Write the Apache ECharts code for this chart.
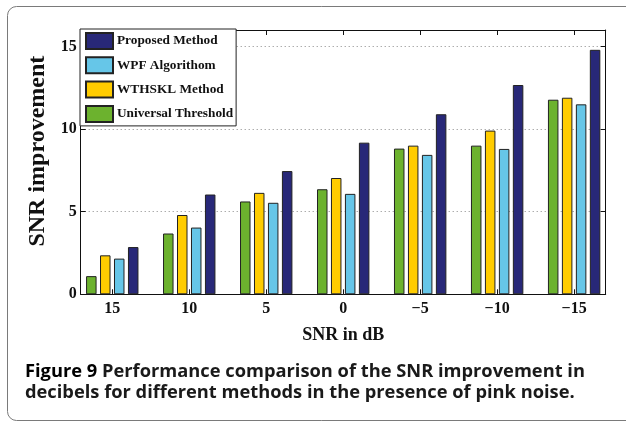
<!DOCTYPE html>
<html>
<head>
<meta charset="utf-8">
<script src="https://cdn.jsdelivr.net/npm/echarts@6/dist/echarts.min.js"></script>
<style>
  html, body { margin: 0; padding: 0; background: #fff; }
  #chart { width: 626px; height: 424px; }
</style>
</head>
<body>
<div id="chart"></div>
<script>
// SNR input levels (x axis)
const snrLabels = ['15', '10', '5', '0', '\u22125', '\u221210', '\u221215'];
// position of each group on the x axis
const snrPos = [1, 2, 3, 4, 5, 6, 7];

// SNR improvement, one array per method
const universal = [1.1, 3.68, 5.62, 6.36, 8.82, 9.0, 11.78];
const wthskl = [2.36, 4.8, 6.14, 7.04, 9.0, 9.91, 11.9];
const wpf = [2.16, 4.04, 5.54, 6.08, 8.44, 8.8, 11.5];
const proposed = [2.86, 6.04, 7.46, 9.18, 10.9, 12.67, 14.8];

const methodNames = ['Universal Threshold', 'WTHSKL Method', 'WPF Algorithom', 'Proposed Method'];
const legendOrder = ['Proposed Method', 'WPF Algorithom', 'WTHSKL Method', 'Universal Threshold'];
const yTicks = [0, 5, 10, 15];

const serif = '"Liberation Serif", "DejaVu Serif", serif';
const sans = '"Open Sans", "Noto Sans", sans-serif';
const colors = ['#6cb22e', '#ffcc00', '#66c6e8', '#282878'];
const seriesValues = [universal, wthskl, wpf, proposed];

const chart = echarts.init(document.getElementById('chart'));

const series = methodNames.map(function (name, i) {
    return {
        name: name,
        type: 'bar',
        xAxisIndex: 0,
        yAxisIndex: 0,
        barWidth: 10.5,
        barGap: '33%',
        itemStyle: { color: colors[i], borderColor: '#222', borderWidth: 1 },
        data: snrPos.map(function (x, k) { return [x, seriesValues[i][k]]; })
    };
});

chart.setOption({
    animation: false,
    grid: { left: 80.7, right: 20.3, top: 30, bottom: 129.7 },
    legend: {
        orient: 'vertical',
        left: 80,
        top: 29,
        data: legendOrder,
        icon: 'rect',
        itemWidth: 27,
        itemHeight: 16,
        itemGap: 6.3,
        padding: [3, 3, 3, 5],
        borderColor: '#222',
        borderWidth: 1,
        backgroundColor: '#fff',
        z: 10,
        textStyle: { fontFamily: serif, fontWeight: 'bold', fontSize: 13.3, color: '#111', padding: [0, 0, 0, -1] }
    },
    xAxis: [
        {
            type: 'value',
            min: 0.59,
            max: 7.41,
            name: 'SNR in dB',
            nameLocation: 'middle',
            nameGap: 32,
            nameTextStyle: { fontFamily: serif, fontWeight: 'bold', fontSize: 18, color: '#111' },
            axisLine: { show: true, lineStyle: { color: '#111', width: 1 } },
            axisTick: { show: true, inside: true, length: 5, customValues: snrPos, lineStyle: { color: '#111' } },
            axisLabel: {
                customValues: snrPos,
                margin: 7,
                fontFamily: serif, fontWeight: 'bold', fontSize: 16, color: '#111',
                formatter: function (v) { return snrLabels[Math.round(v) - 1]; }
            },
            splitLine: { show: false }
        },
        {
            type: 'value',
            position: 'top',
            min: 0.59,
            max: 7.41,
            z: 5,
            axisLine: { show: true, onZero: false, lineStyle: { color: '#111', width: 1 } },
            axisTick: { show: true, inside: true, length: 5, customValues: snrPos, lineStyle: { color: '#111' } },
            axisLabel: { show: false },
            splitLine: { show: false }
        }
    ],
    yAxis: [
        {
            type: 'value',
            min: 0,
            max: 16,
            interval: 5,
            name: 'SNR improvement',
            nameLocation: 'middle',
            nameGap: 27,
            nameTextStyle: { fontFamily: serif, fontWeight: 'bold', fontSize: 24, color: '#111', padding: [0, 0, 0, 22] },
            axisLine: { show: true, lineStyle: { color: '#111', width: 1 } },
            axisTick: { show: true, inside: true, length: 5, customValues: yTicks, lineStyle: { color: '#111' } },
            axisLabel: {
                customValues: yTicks,
                margin: 4,
                fontFamily: serif, fontWeight: 'bold', fontSize: 16, color: '#111'
            },
            splitLine: { show: true, lineStyle: { color: '#888', type: [1, 3], width: 1 } }
        },
        {
            type: 'value',
            position: 'right',
            min: 0,
            max: 16,
            interval: 5,
            z: 5,
            axisLine: { show: true, onZero: false, lineStyle: { color: '#111', width: 1 } },
            axisTick: { show: true, inside: true, length: 5, customValues: yTicks, lineStyle: { color: '#111' } },
            axisLabel: { show: false },
            splitLine: { show: false }
        }
    ],
    graphic: [
        {
            type: 'rect',
            silent: true,
            shape: { x: 7.5, y: 6.5, width: 640, height: 414, r: 9 },
            style: { fill: 'none', stroke: '#7a7a7a', lineWidth: 1 }
        },
        {
            type: 'text',
            left: 25,
            top: 362,
            style: {
                text: '{b|Figure 9} Performance comparison of the SNR improvement in\ndecibels for different methods in the presence of pink noise.',
                fontFamily: sans,
                fontWeight: 'bold',
                fontSize: 18.3,
                lineHeight: 20.5,
                fill: '#1a1a1a',
                rich: {
                    b: { fontFamily: sans, fontWeight: 'bold', fontSize: 18.3, lineHeight: 20.5, fill: '#000' }
                }
            }
        }
    ],
    series: series
});
</script>
</body>
</html>
